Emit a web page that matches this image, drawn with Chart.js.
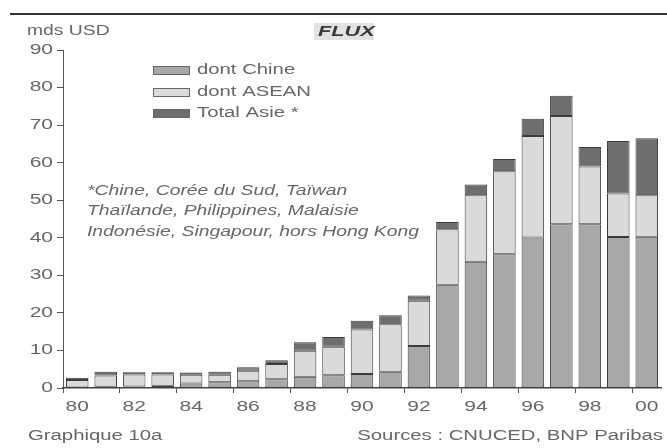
<!DOCTYPE html>
<html>
<head>
<meta charset="utf-8">
<script src="https://cdn.jsdelivr.net/npm/chart.js@4.4.1/dist/chart.umd.min.js"></script>
<style>
  html, body { margin: 0; padding: 0; background: #fff; }
  #wrap { width: 667px; height: 448px; position: relative; }
</style>
</head>
<body>
<div id="wrap"><canvas id="c" width="667" height="448"></canvas></div>
<script>
// Investment flows into Asia, bn USD, 1980-2000
const years = ['80','81','82','83','84','85','86','87','88','89','90',
               '91','92','93','94','95','96','97','98','99','00'];
const chine = [0.1, 0.3, 0.4, 0.6, 1.2, 1.5, 1.8, 2.3, 3.0, 3.4, 3.7,
               4.3, 11.2, 27.5, 33.6, 35.6, 40.1, 43.6, 43.6, 40.2, 40.3];
const asean = [2.0, 3.0, 3.2, 3.0, 2.3, 2.0, 2.8, 4.1, 6.9, 7.6, 11.9,
               12.7, 12.0, 14.8, 17.7, 22.1, 27.0, 28.8, 15.4, 11.6, 11.0];
const totalAsie = [2.7, 4.3, 4.2, 4.2, 4.1, 4.3, 5.5, 7.4, 12.2, 13.6, 17.9,
                   19.4, 24.6, 44.2, 54.2, 61.0, 71.7, 77.8, 64.2, 65.8, 66.5];
const seriesNames = ['dont Chine', 'dont ASEAN', 'Total Asie *'];
const noteLines = ['*Chine, Corée du Sud, Taïwan',
                   'Thaïlande, Philippines, Malaisie',
                   'Indonésie, Singapour, hors Hong Kong'];

// top segment: rest of the Asian total above China + ASEAN
const resteAsie = totalAsie.map((t, i) => +(t - chine[i] - asean[i]).toFixed(2));

const FONT = '"Liberation Sans", Arial, sans-serif';
const TXT = '#676767';
const EDGE = '#3c3c3c';
const WIDE = 1.5;   // the lettering is set wide

// text drawn with a horizontal stretch
function wideText(ctx, str, x, y, font, align, sx) {
  ctx.save();
  ctx.font = font;
  ctx.textAlign = align || 'left';
  ctx.textBaseline = 'middle';
  ctx.translate(x, y);
  ctx.scale(sx || WIDE, 1);
  ctx.fillText(str, 0, 0);
  ctx.restore();
}

const extras = {
  id: 'extras',
  afterDraw(chart) {
    const ctx = chart.ctx;
    const xs = chart.scales.x, ys = chart.scales.y;
    ctx.save();
    // rule across the top
    ctx.strokeStyle = '#333';
    ctx.lineWidth = 2;
    ctx.beginPath(); ctx.moveTo(10, 14); ctx.lineTo(667, 14); ctx.stroke();

    ctx.fillStyle = TXT;
    wideText(ctx, 'mds USD', 27, 31, '14px ' + FONT, 'left', 1.38);

    // panel title
    ctx.fillStyle = '#e2e2e2';
    ctx.fillRect(314, 23, 60, 17);
    ctx.fillStyle = '#3a3a3a';
    wideText(ctx, 'FLUX', 318, 32, 'italic bold 14px ' + FONT, 'left', 1.55);

    // axis tick labels
    ctx.fillStyle = TXT;
    const tf = '14px ' + FONT;
    xs.ticks.forEach((t, i) => {
      if (i % 2 === 0) wideText(ctx, years[i], xs.getPixelForTick(i), 407, tf, 'center');
    });
    ys.ticks.forEach(t => {
      wideText(ctx, String(t.value), 53, ys.getPixelForValue(t.value), tf, 'right');
    });

    // legend
    const ds = chart.data.datasets;
    const rows = [70, 92, 113];
    seriesNames.forEach((name, i) => {
      const y = rows[i];
      ctx.fillStyle = ds[i].backgroundColor;
      ctx.fillRect(153, y - 4, 37, 9);
      ctx.strokeStyle = '#666';
      ctx.lineWidth = 1;
      ctx.strokeRect(153.5, y - 3.5, 36, 8);
      ctx.fillStyle = TXT;
      wideText(ctx, name, 197, y, '14px ' + FONT, 'left', 1.45);
    });

    // footnote
    ctx.fillStyle = TXT;
    noteLines.forEach((l, i) =>
      wideText(ctx, l, 87, 191 + i * 20.5, 'italic 14px ' + FONT, 'left', 1.38));

    // bottom line
    wideText(ctx, 'Graphique 10a', 28, 436, '14px ' + FONT, 'left', 1.45);
    wideText(ctx, 'Sources : CNUCED, BNP Paribas', 663, 436, '14px ' + FONT, 'right', 1.45);
    ctx.restore();
  }
};

const mk = (label, data, color) => ({
  label, data, backgroundColor: color, borderColor: EDGE, borderWidth: 1,
  borderSkipped: false, barPercentage: 0.9, categoryPercentage: 0.88
});

new Chart(document.getElementById('c'), {
  type: 'bar',
  data: {
    labels: years,
    datasets: [
      mk(seriesNames[0], chine, '#a8a8a8'),
      mk(seriesNames[1], asean, '#dadada'),
      mk(seriesNames[2], resteAsie, '#6e6e6e')
    ]
  },
  options: {
    responsive: false,
    animation: false,
    layout: { padding: { top: 50, right: 6, left: 0, bottom: 0 } },
    plugins: { legend: { display: false }, tooltip: { enabled: false } },
    scales: {
      x: {
        stacked: true,
        afterFit: s => { s.height = 60; },
        border: { display: true, color: '#444', width: 1.5 },
        grid: {
          display: true, drawOnChartArea: false, offset: true, tickLength: 5,
          tickColor: c => (c.index % 2 === 0 ? '#555' : 'rgba(0,0,0,0)')
        },
        ticks: {
          autoSkip: false, maxRotation: 0, padding: 4,
          color: 'rgba(0,0,0,0)', font: { family: FONT, size: 14 }
        }
      },
      y: {
        stacked: true,
        min: 0, max: 90,
        afterFit: s => { s.width = 63; },
        border: { display: true, color: '#555', width: 1 },
        grid: { display: true, drawOnChartArea: false, tickLength: 6, tickColor: '#555' },
        ticks: { stepSize: 10, padding: 6, color: 'rgba(0,0,0,0)', font: { family: FONT, size: 14 } }
      }
    }
  },
  plugins: [extras]
});
</script>
</body>
</html>
